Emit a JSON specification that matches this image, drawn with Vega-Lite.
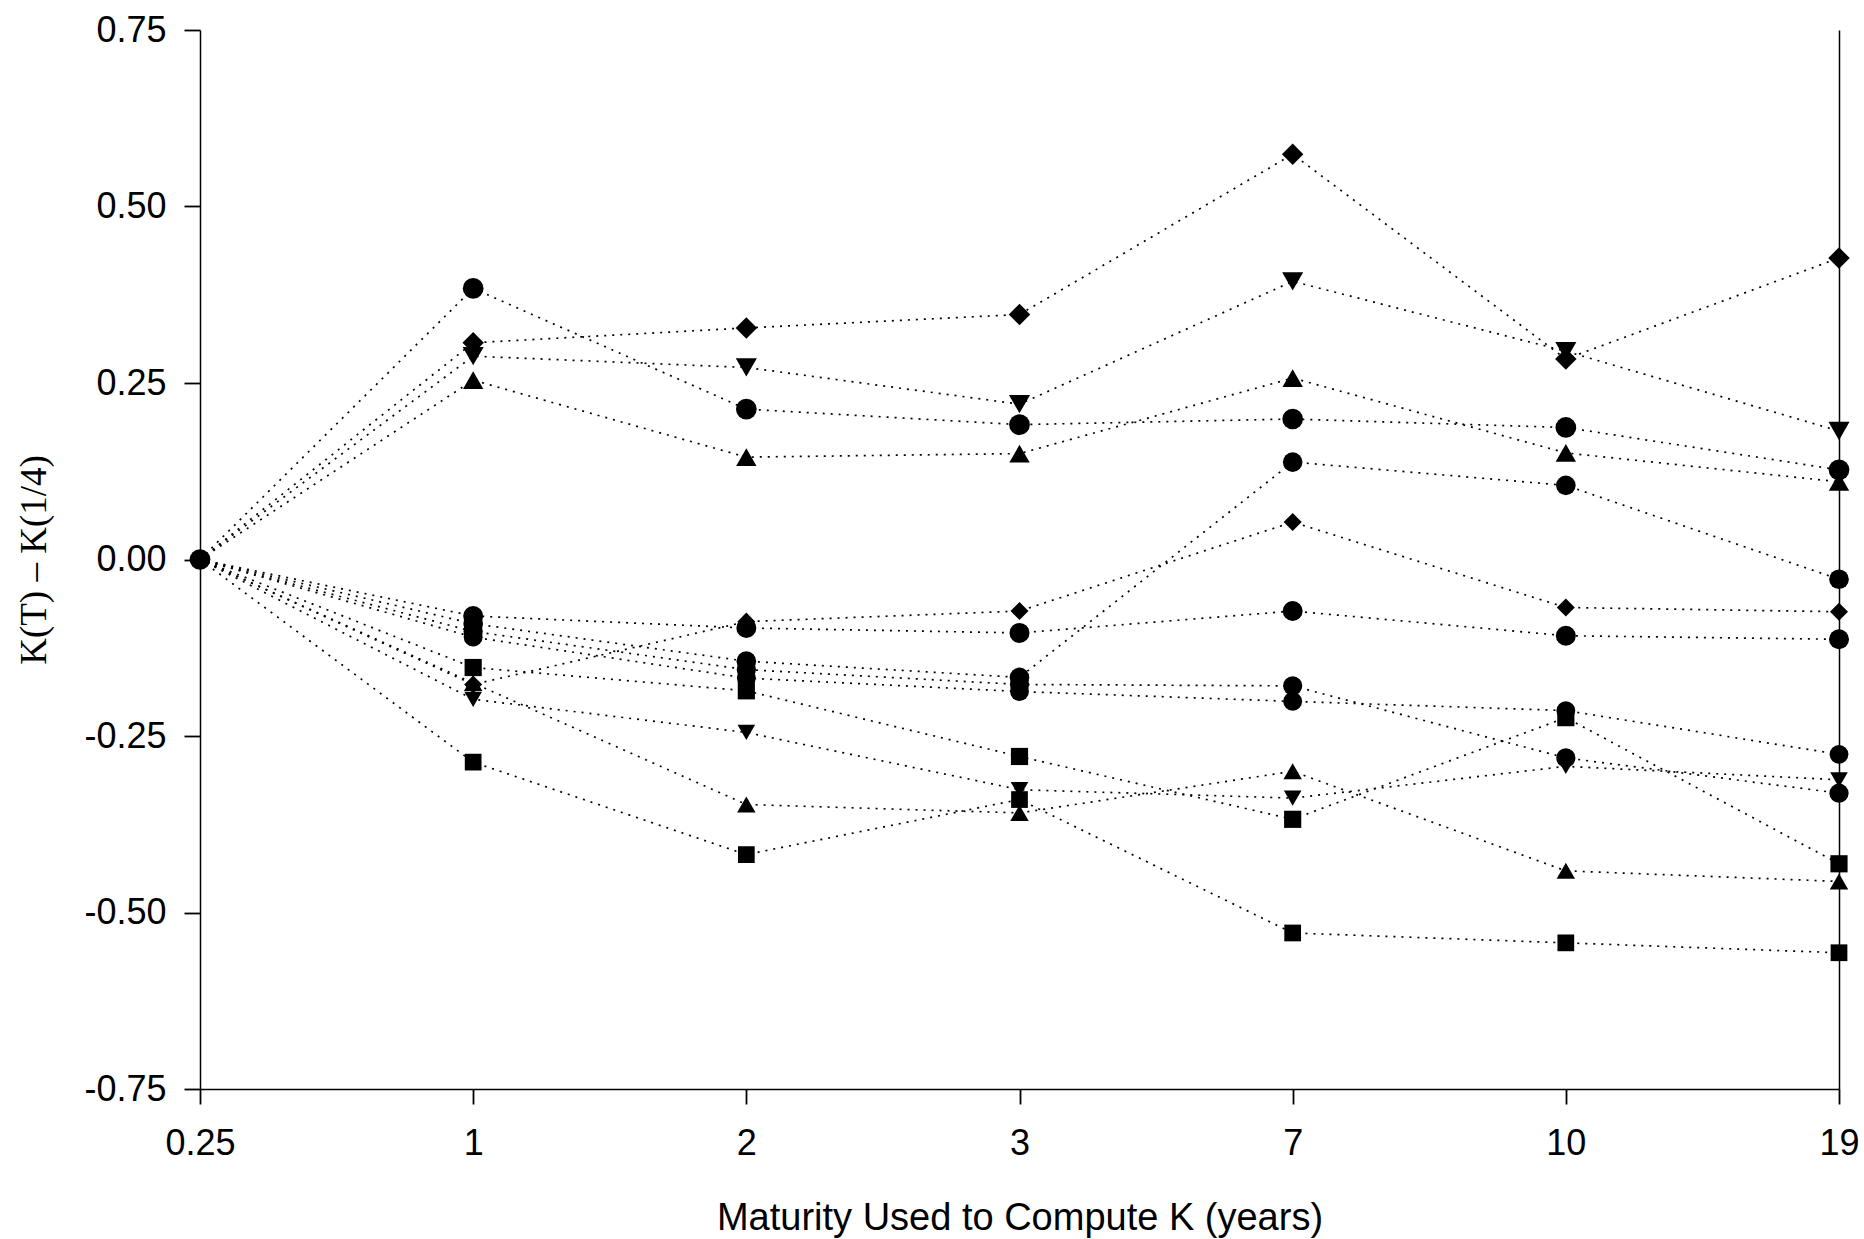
{
  "$schema": "https://vega.github.io/schema/vega-lite/v6.json",
  "autosize": {"type": "none"},
  "padding": {"left": 200, "top": 30, "right": 25, "bottom": 150},
  "width": 1639,
  "height": 1059,
  "background": "white",
  "config": {
    "view": {"stroke": null},
    "axis": {
      "labelFont": "Liberation Sans",
      "labelFontSize": 36,
      "labelFontWeight": "normal",
      "labelColor": "#000",
      "titleFont": "Liberation Sans",
      "titleColor": "#000",
      "titleFontWeight": "normal",
      "domainColor": "#000",
      "tickColor": "#000",
      "domainWidth": 1.5,
      "tickWidth": 1.8,
      "grid": false
    }
  },
  "data": {
    "values": [
      {"series": "A", "T": 0.25, "value": 0}, {"series": "A", "T": 1, "value": 0.307}, {"series": "A", "T": 2, "value": 0.328}, {"series": "A", "T": 3, "value": 0.347}, {"series": "A", "T": 7, "value": 0.574}, {"series": "A", "T": 10, "value": 0.284}, {"series": "A", "T": 19, "value": 0.427},
      {"series": "B", "T": 0.25, "value": 0}, {"series": "B", "T": 1, "value": 0.288}, {"series": "B", "T": 2, "value": 0.272}, {"series": "B", "T": 3, "value": 0.220}, {"series": "B", "T": 7, "value": 0.394}, {"series": "B", "T": 10, "value": 0.295}, {"series": "B", "T": 19, "value": 0.182},
      {"series": "D", "T": 0.25, "value": 0}, {"series": "D", "T": 1, "value": 0.254}, {"series": "D", "T": 2, "value": 0.145}, {"series": "D", "T": 3, "value": 0.150}, {"series": "D", "T": 7, "value": 0.257}, {"series": "D", "T": 10, "value": 0.151}, {"series": "D", "T": 19, "value": 0.110},
      {"series": "E", "T": 0.25, "value": 0}, {"series": "E", "T": 1, "value": -0.080}, {"series": "E", "T": 2, "value": -0.097}, {"series": "E", "T": 3, "value": -0.104}, {"series": "E", "T": 7, "value": -0.073}, {"series": "E", "T": 10, "value": -0.108}, {"series": "E", "T": 19, "value": -0.113},
      {"series": "F", "T": 0.25, "value": 0}, {"series": "F", "T": 1, "value": -0.091}, {"series": "F", "T": 2, "value": -0.144}, {"series": "F", "T": 3, "value": -0.167}, {"series": "F", "T": 7, "value": 0.138}, {"series": "F", "T": 10, "value": 0.105}, {"series": "F", "T": 19, "value": -0.028},
      {"series": "G", "T": 0.25, "value": 0}, {"series": "G", "T": 1, "value": -0.102}, {"series": "G", "T": 2, "value": -0.156}, {"series": "G", "T": 3, "value": -0.177}, {"series": "G", "T": 7, "value": -0.179}, {"series": "G", "T": 10, "value": -0.281}, {"series": "G", "T": 19, "value": -0.331},
      {"series": "H", "T": 0.25, "value": 0}, {"series": "H", "T": 1, "value": -0.110}, {"series": "H", "T": 2, "value": -0.168}, {"series": "H", "T": 3, "value": -0.187}, {"series": "H", "T": 7, "value": -0.201}, {"series": "H", "T": 10, "value": -0.214}, {"series": "H", "T": 19, "value": -0.276},
      {"series": "I", "T": 0.25, "value": 0}, {"series": "I", "T": 1, "value": -0.175}, {"series": "I", "T": 2, "value": -0.347}, {"series": "I", "T": 3, "value": -0.359}, {"series": "I", "T": 7, "value": -0.300}, {"series": "I", "T": 10, "value": -0.441}, {"series": "I", "T": 19, "value": -0.456},
      {"series": "J", "T": 0.25, "value": 0}, {"series": "J", "T": 1, "value": -0.177}, {"series": "J", "T": 2, "value": -0.088}, {"series": "J", "T": 3, "value": -0.073}, {"series": "J", "T": 7, "value": 0.053}, {"series": "J", "T": 10, "value": -0.068}, {"series": "J", "T": 19, "value": -0.074},
      {"series": "K", "T": 0.25, "value": 0}, {"series": "K", "T": 1, "value": -0.198}, {"series": "K", "T": 2, "value": -0.245}, {"series": "K", "T": 3, "value": -0.326}, {"series": "K", "T": 7, "value": -0.338}, {"series": "K", "T": 10, "value": -0.293}, {"series": "K", "T": 19, "value": -0.312},
      {"series": "L", "T": 0.25, "value": 0}, {"series": "L", "T": 1, "value": -0.153}, {"series": "L", "T": 2, "value": -0.186}, {"series": "L", "T": 3, "value": -0.279}, {"series": "L", "T": 7, "value": -0.368}, {"series": "L", "T": 10, "value": -0.224}, {"series": "L", "T": 19, "value": -0.431},
      {"series": "M", "T": 0.25, "value": 0}, {"series": "M", "T": 1, "value": -0.287}, {"series": "M", "T": 2, "value": -0.418}, {"series": "M", "T": 3, "value": -0.340}, {"series": "M", "T": 7, "value": -0.529}, {"series": "M", "T": 10, "value": -0.543}, {"series": "M", "T": 19, "value": -0.557},
      {"series": "C", "T": 0.25, "value": 0}, {"series": "C", "T": 1, "value": 0.384}, {"series": "C", "T": 2, "value": 0.213}, {"series": "C", "T": 3, "value": 0.191}, {"series": "C", "T": 7, "value": 0.199}, {"series": "C", "T": 10, "value": 0.187}, {"series": "C", "T": 19, "value": 0.127}
    ]
  },
  "encoding": {
    "x": {
      "field": "T",
      "type": "ordinal",
      "scale": {"type": "point", "padding": 0},
      "axis": {
        "labelAngle": 0,
        "tickSize": 15,
        "labelPadding": 22,
        "title": "Maturity Used to Compute K (years)",
        "titleFontSize": 38,
        "titleBaseline": "middle",
        "titleX": 819.5,
        "titleY": 129
      }
    },
    "y": {
      "field": "value",
      "type": "quantitative",
      "scale": {"domain": [-0.75, 0.75], "nice": false, "zero": false}
    }
  },
  "layer": [
    {
      "mark": {"type": "line", "color": "#000", "strokeWidth": 1.7, "strokeDash": [2, 6]},
      "encoding": {
        "detail": {"field": "series", "type": "nominal"},
        "y": {
          "field": "value",
          "type": "quantitative",
          "axis": {
            "values": [-0.75, -0.5, -0.25, 0, 0.25, 0.5, 0.75],
            "labelExpr": "datum.value < 0 ? '-' + format(-datum.value, '.2f') : format(datum.value, '.2f')",
            "tickSize": 16,
            "labelPadding": 18,
            "title": "K(T) – K(1/4)",
            "titleFont": "Liberation Serif",
            "titleFontSize": 37,
            "titleAngle": -90,
            "titleBaseline": "middle",
            "titleAlign": "center",
            "titleX": -166,
            "titleY": 529.5
          }
        }
      }
    },
    {
      "transform": [{"filter": "datum.T != 0.25 || datum.series == 'C'"}],
      "mark": {"type": "point", "filled": true, "color": "#000", "opacity": 1},
      "encoding": {
        "shape": {
          "field": "series",
          "type": "nominal",
          "legend": null,
          "scale": {
            "domain": ["A", "B", "C", "D", "E", "F", "G", "H", "I", "J", "K", "L", "M"],
            "range": ["diamond", "triangle-down", "circle", "triangle-up", "circle", "circle", "circle", "circle", "triangle-up", "diamond", "triangle-down", "square", "square"]
          }
        },
        "size": {
          "field": "series",
          "type": "nominal",
          "legend": null,
          "scale": {
            "domain": ["A", "B", "C", "D", "E", "F", "G", "H", "I", "J", "K", "L", "M"],
            "range": [460, 280, 150, 280, 150, 150, 150, 150, 280, 460, 280, 140, 140]
          }
        },
        "y": {
          "field": "value",
          "type": "quantitative",
          "axis": {"orient": "right", "labels": false, "ticks": false, "title": null, "domain": true, "values": []}
        }
      }
    }
  ],
  "resolve": {"axis": {"y": "independent"}}
}
